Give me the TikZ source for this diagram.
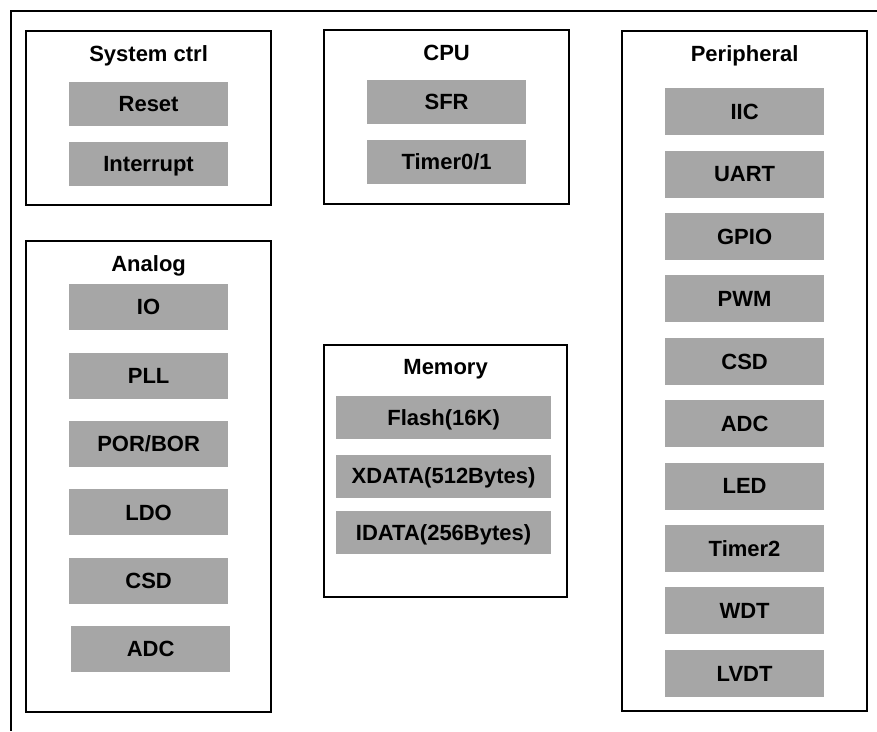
\documentclass[tikz,border=0pt]{standalone}
\usepackage{fontspec}
\setmainfont{Liberation Sans}
\usetikzlibrary{positioning}

\tikzset{
    group/.style={draw,line width=2.2pt,anchor=north west,inner sep=0pt,minimum width=245pt},
    title/.style={font=\fontsize{22}{26}\selectfont\bfseries},
    block/.style={fill=gray!70,inner sep=0pt,text height=15.5pt,text depth=0pt,minimum width=159pt,minimum height=46pt,font=\fontsize{22}{26}\selectfont\bfseries}
}

\begin{document}
\begin{tikzpicture}[x=1pt,y=-1pt]
    \useasboundingbox (0,0) rectangle (877,731);
    \draw[line width=2pt] (877,11) -- (11,11) -- (11,731);

    \draw
        node[group,minimum height=174pt] (sys) at (25,30) {}
        node[group,minimum height=174pt] (cpu) at (323,29) {}
        node[group,minimum height=680pt] (per) at (621,30) {}
        node[group,minimum height=471pt] (ana) at (25,240) {}
        node[group,minimum width=243pt,minimum height=252pt] (mem) at (323,344) {}

        node[title,below=31pt of sys.north,anchor=base] {System ctrl}
        node[title,below=31pt of cpu.north,anchor=base] {CPU}
        node[title,below=31pt of per.north,anchor=base] {Peripheral}
        node[title,below=31pt of ana.north,anchor=base] {Analog}
        node[title,below=30pt of mem.north,anchor=base] {Memory}

        node[block,minimum height=44pt,below=52pt of sys.north] (reset) {Reset}
        node[block,minimum height=44pt,below=15pt of reset] (intr) {Interrupt}

        node[block,minimum height=44pt,below=51pt of cpu.north] (sfr) {SFR}
        node[block,minimum height=44pt,below=15pt of sfr] (timer01) {Timer0/1}

        node[block,below=44pt of ana.north] (io) {IO}
        node[block,below=22pt of io] (pll) {PLL}
        node[block,below=22pt of pll] (por) {POR/BOR}
        node[block,below=22pt of por] (ldo) {LDO}
        node[block,below=22pt of ldo] (acsd) {CSD}
        node[block,below=22pt of acsd,xshift=2pt] (aadc) {ADC}

        node[block,minimum width=215pt,minimum height=43pt,below=52pt of mem.north,xshift=-2pt] (flash) {Flash(16K)}
        node[block,minimum width=215pt,minimum height=43pt,below=15pt of flash] (xdata) {XDATA(512Bytes)}
        node[block,minimum width=215pt,minimum height=43pt,below=13pt of xdata] (idata) {IDATA(256Bytes)}

        node[block,minimum height=47pt,below=58pt of per.north] (iic) {IIC}
        node[block,minimum height=47pt,below=15pt of iic] (uart) {UART}
        node[block,minimum height=47pt,below=15pt of uart] (gpio) {GPIO}
        node[block,minimum height=47pt,below=15pt of gpio] (pwm) {PWM}
        node[block,minimum height=47pt,below=15pt of pwm] (pcsd) {CSD}
        node[block,minimum height=47pt,below=15pt of pcsd] (padc) {ADC}
        node[block,minimum height=47pt,below=15pt of padc] (led) {LED}
        node[block,minimum height=47pt,below=15pt of led] (timer2) {Timer2}
        node[block,minimum height=47pt,below=15pt of timer2] (wdt) {WDT}
        node[block,minimum height=47pt,below=15pt of wdt] (lvdt) {LVDT}
    ;
\end{tikzpicture}
\end{document}
